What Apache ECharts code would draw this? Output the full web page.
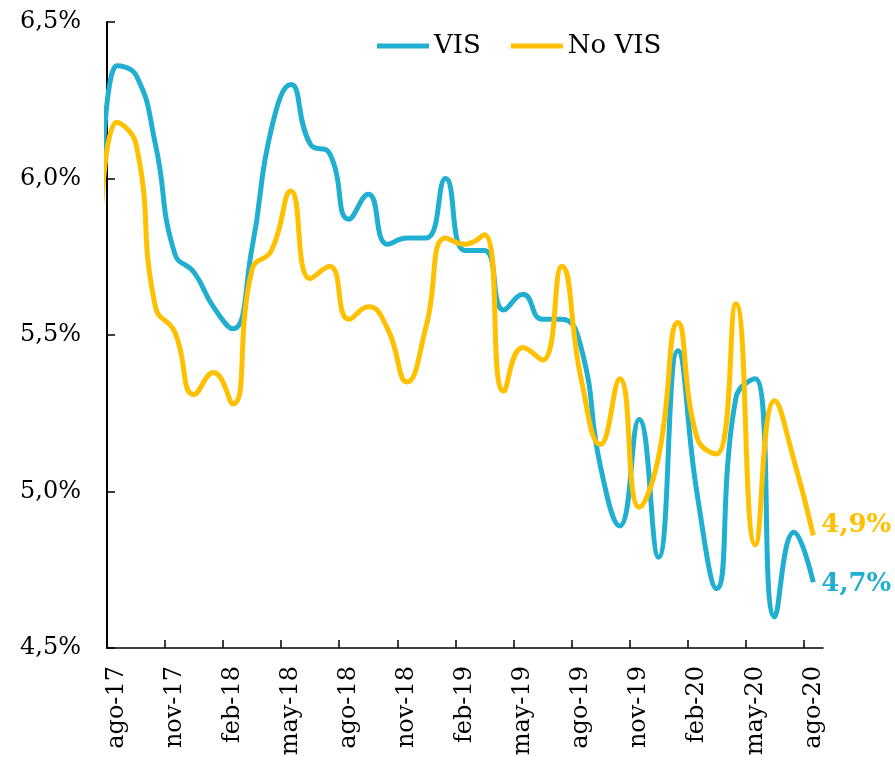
<!DOCTYPE html>
<html>
<head>
<meta charset="utf-8">
<script src="https://cdn.jsdelivr.net/npm/echarts@6/dist/echarts.min.js"></script>
<style>
  html, body { margin: 0; padding: 0; background: #fff; }
  #chart { width: 895px; height: 761px; }
</style>
</head>
<body>
<div id="chart"></div>
<script>
// meses (el primero, jul-17, queda fuera del eje y solo da forma a la curva)
var months = ['jul-17',
  'ago-17', 'sep-17', 'oct-17', 'nov-17', 'dic-17', 'ene-18', 'feb-18', 'mar-18', 'abr-18',
  'may-18', 'jun-18', 'jul-18', 'ago-18', 'sep-18', 'oct-18', 'nov-18', 'dic-18', 'ene-19',
  'feb-19', 'mar-19', 'abr-19', 'may-19', 'jun-19', 'jul-19', 'ago-19', 'sep-19', 'oct-19',
  'nov-19', 'dic-19', 'ene-20', 'feb-20', 'mar-20', 'abr-20', 'may-20', 'jun-20', 'jul-20', 'ago-20']

var vis = [5.40,
  6.36, 6.33, 6.11, 5.76, 5.70, 5.59, 5.52, 5.78, 6.16,
  6.30, 6.11, 6.08, 5.87, 5.95, 5.79, 5.81, 5.81, 6.00,
  5.77, 5.77, 5.58, 5.63, 5.55, 5.55, 5.46, 5.08, 4.89,
  5.23, 4.79, 5.45, 4.99, 4.69, 5.30, 5.36, 4.60, 4.87, 4.71]

var noVis = [5.55,
  6.18, 6.11, 5.59, 5.51, 5.31, 5.38, 5.28, 5.71, 5.77,
  5.96, 5.68, 5.72, 5.55, 5.59, 5.52, 5.35, 5.53, 5.81,
  5.79, 5.82, 5.32, 5.46, 5.42, 5.72, 5.36, 5.15, 5.36,
  4.95, 5.11, 5.54, 5.17, 5.12, 5.60, 4.83, 5.29, 5.10, 4.86]

var yTicks = [4.5, 5.0, 5.5, 6.0, 6.5]

var BLUE = '#21AFD1'
var GOLD = '#FFC000'
var FONT = 'DejaVu Serif'

// cada mes ocupa una banda; el punto va al centro de la banda
function toPairs (arr) {
  return arr.map(function (v, i) { return [i - 0.5, v] })
}
var tickVals = []
var labelVals = []
for (var i = 0; i <= 36; i += 3) {
  tickVals.push(i)
  labelVals.push(i + 0.5)
}
function fmtPct (v) {
  return v.toFixed(1).replace('.', ',') + '%'
}

var chart = echarts.init(document.getElementById('chart'))
chart.setOption({
  animation: false,
  grid: { left: 107, right: 72, top: 22, bottom: 113 },
  legend: {
    left: 372,
    top: 28,
    icon: 'rect',
    itemWidth: 52,
    itemHeight: 5,
    itemGap: 30,
    textStyle: { fontFamily: FONT, fontSize: 26, color: '#000' },
    data: ['VIS', 'No VIS']
  },
  xAxis: {
    type: 'value',
    min: 0,
    max: 37,
    splitLine: { show: false },
    axisLine: { show: true, lineStyle: { color: '#000', width: 1.5 } },
    axisTick: { show: true, inside: true, length: 8, customValues: tickVals, lineStyle: { color: '#000', width: 1.5 } },
    axisLabel: {
      customValues: labelVals,
      rotate: 90,
      margin: 18,
      fontFamily: FONT,
      fontSize: 24,
      color: '#000',
      formatter: function (v) { return months[Math.round(v + 0.5)] }
    }
  },
  yAxis: {
    type: 'value',
    min: 4.5,
    max: 6.5,
    interval: 0.5,
    splitLine: { show: false },
    axisLine: { show: true, lineStyle: { color: '#000', width: 2 } },
    axisTick: { show: true, inside: true, length: 8, lineStyle: { color: '#000', width: 1.5 } },
    axisLabel: {
      margin: 26,
      fontFamily: FONT,
      fontSize: 24,
      color: '#000',
      formatter: function (v) { return yTicks.indexOf(v) >= 0 ? fmtPct(v) : '' }
    }
  },
  series: [
    {
      name: 'VIS',
      type: 'line',
      data: toPairs(vis),
      smooth: 0.5,
      symbol: 'none',
      clip: true,
      lineStyle: { color: BLUE, width: 5 },
      itemStyle: { color: BLUE },
      endLabel: {
        show: true,
        distance: 8,
        offset: [0, 2],
        color: BLUE,
        fontFamily: FONT,
        fontWeight: 'bold',
        fontSize: 26,
        formatter: function (p) { return fmtPct(p.value[1]) }
      }
    },
    {
      name: 'No VIS',
      type: 'line',
      data: toPairs(noVis),
      smooth: 0.5,
      symbol: 'none',
      clip: true,
      lineStyle: { color: GOLD, width: 5 },
      itemStyle: { color: GOLD },
      endLabel: {
        show: true,
        distance: 8,
        offset: [0, -10],
        color: GOLD,
        fontFamily: FONT,
        fontWeight: 'bold',
        fontSize: 26,
        formatter: function (p) { return fmtPct(p.value[1]) }
      }
    }
  ]
})
</script>
</body>
</html>
